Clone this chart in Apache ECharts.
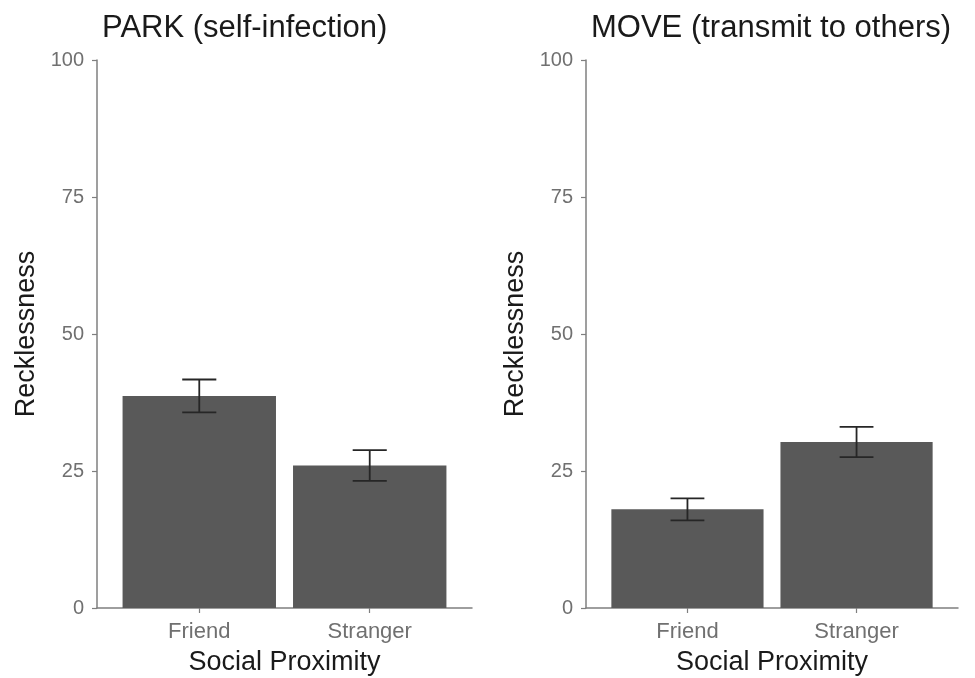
<!DOCTYPE html>
<html>
<head>
<meta charset="utf-8">
<script src="https://cdn.jsdelivr.net/npm/echarts@6/dist/echarts.min.js"></script>
<style>html,body{margin:0;padding:0;background:#fff;}#c{width:975px;height:678px;}</style>
</head>
<body>
<div id="c"></div>
<script>
const categories = ['Friend', 'Stranger'];
const panelTitles = ['PARK (self-infection)', 'MOVE (transmit to others)'];
const parkMeans = [38.7, 26.0];
const parkErr = [3.0, 2.8];
const moveMeans = [18.0, 30.3];
const moveErr = [2.0, 2.75];
const yTicks = [0, 25, 50, 75, 100];

const FONT = "'Liberation Sans', Arial, Helvetica, sans-serif";
const chart = echarts.init(document.getElementById('c'), null, {renderer: 'canvas'});

function barData(means) { return means.map((m, i) => [i + 1, m]); }
function errData(means, errs) { return means.map((m, i) => [i + 1, m - errs[i], m + errs[i]]); }

function renderBar(params, api) {
  const x = api.value(0), y = api.value(1);
  const p0 = api.coord([x - 0.45, y]);
  const p1 = api.coord([x + 0.45, 0]);
  return {type: 'rect', shape: {x: p0[0], y: p0[1], width: p1[0] - p0[0], height: p1[1] - p0[1]},
          style: {fill: '#595959'}};
}
function renderErr(params, api) {
  const x = api.value(0), lo = api.value(1), hi = api.value(2);
  const a = api.coord([x, lo]), b = api.coord([x, hi]);
  const l1 = api.coord([x - 0.1, lo]), r1 = api.coord([x + 0.1, lo]);
  const l2 = api.coord([x - 0.1, hi]), r2 = api.coord([x + 0.1, hi]);
  const st = {stroke: '#262626', lineWidth: 1.8};
  return {type: 'group', children: [
    {type: 'line', shape: {x1: a[0], y1: a[1], x2: b[0], y2: b[1]}, style: st},
    {type: 'line', shape: {x1: l1[0], y1: l1[1], x2: r1[0], y2: r1[1]}, style: st},
    {type: 'line', shape: {x1: l2[0], y1: l2[1], x2: r2[0], y2: r2[1]}, style: st}
  ]};
}

const grids = [
  {left: 97, right: 503, top: 60, bottom: 70, outerBoundsMode: 'none', containLabel: false},
  {left: 586, right: 17, top: 60, bottom: 70, outerBoundsMode: 'none', containLabel: false}
];
const axisColor = '#7f7f7f';
const labelColor = '#707070';

function xAxisFor(i) {
  return {
    type: 'value', gridIndex: i, min: 0.4, max: 2.6,
    name: 'Social Proximity', nameLocation: 'middle', nameGap: 41,
    nameTextStyle: {fontFamily: FONT, fontSize: 27, color: '#1a1a1a'},
    axisLine: {show: true, lineStyle: {color: axisColor, width: 1.5}},
    axisTick: {show: true, customValues: [1, 2], length: 5, lineStyle: {color: axisColor, width: 1.2}},
    axisLabel: {customValues: [1, 2], margin: 13, fontFamily: FONT, fontSize: 22, color: labelColor,
                formatter: v => categories[Math.round(v) - 1] || ''},
    splitLine: {show: false}
  };
}
function yAxisFor(i) {
  return {
    type: 'value', gridIndex: i, min: 0, max: 100, interval: 25,
    name: 'Recklessness', nameLocation: 'middle', nameGap: 57, nameRotate: 90,
    nameTextStyle: {fontFamily: FONT, fontSize: 27, color: '#1a1a1a'},
    axisLine: {show: true, lineStyle: {color: axisColor, width: 1.5}},
    axisTick: {show: true, length: 5, lineStyle: {color: axisColor, width: 1.2}},
    axisLabel: {margin: 13, fontFamily: FONT, fontSize: 20, color: labelColor,
                formatter: v => (yTicks.indexOf(v) >= 0 ? String(v) : '')},
    splitLine: {show: false}
  };
}

const option = {
  backgroundColor: '#fff',
  animation: false,
  title: [
    {text: panelTitles[0], left: 97, top: 8, textStyle: {fontFamily: FONT, fontSize: 31, fontWeight: 'normal', color: '#1a1a1a'}},
    {text: panelTitles[1], left: 586, top: 8, textStyle: {fontFamily: FONT, fontSize: 31, fontWeight: 'normal', color: '#1a1a1a'}}
  ],
  grid: grids,
  xAxis: [xAxisFor(0), xAxisFor(1)],
  yAxis: [yAxisFor(0), yAxisFor(1)],
  series: [
    {type: 'custom', xAxisIndex: 0, yAxisIndex: 0, data: barData(parkMeans), renderItem: renderBar, z: 1},
    {type: 'custom', xAxisIndex: 0, yAxisIndex: 0, data: errData(parkMeans, parkErr), renderItem: renderErr, z: 3},
    {type: 'custom', xAxisIndex: 1, yAxisIndex: 1, data: barData(moveMeans), renderItem: renderBar, z: 1},
    {type: 'custom', xAxisIndex: 1, yAxisIndex: 1, data: errData(moveMeans, moveErr), renderItem: renderErr, z: 3}
  ]
};
chart.setOption(option);
</script>
</body>
</html>
